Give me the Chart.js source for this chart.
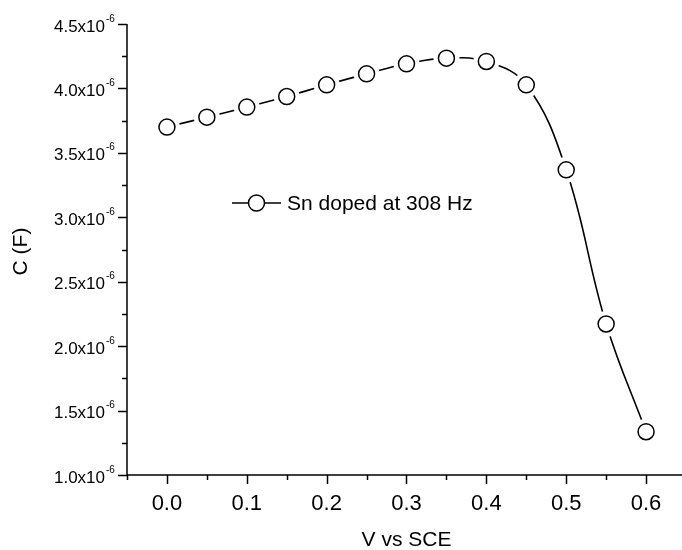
<!DOCTYPE html>
<html>
<head>
<meta charset="utf-8">
<script src="https://cdn.jsdelivr.net/npm/chart.js@4/dist/chart.umd.min.js"></script>
<style>
html,body{margin:0;padding:0;background:#fff;overflow:hidden;}
canvas{display:block;}
</style>
</head>
<body>
<canvas id="c" width="682" height="550"></canvas>
<script>
// ---- data ----
const voltage = [0.00, 0.05, 0.10, 0.15, 0.20, 0.25, 0.30, 0.35, 0.40, 0.45, 0.50, 0.55, 0.60];
const capacitance = [3.700e-6, 3.777e-6, 3.855e-6, 3.937e-6, 4.028e-6, 4.113e-6, 4.191e-6, 4.235e-6, 4.209e-6, 4.028e-6, 3.368e-6, 2.172e-6, 1.336e-6];
const seriesName = 'Sn doped at 308 Hz';

const xMajorTicks = [0.0, 0.1, 0.2, 0.3, 0.4, 0.5, 0.6];
const xTickLabels = ['0.0', '0.1', '0.2', '0.3', '0.4', '0.5', '0.6'];
const xMinorTicks = [-0.05, 0.05, 0.15, 0.25, 0.35, 0.45, 0.55];
const yMajorTicks = [1.0e-6, 1.5e-6, 2.0e-6, 2.5e-6, 3.0e-6, 3.5e-6, 4.0e-6, 4.5e-6];
const yTickLabels = ['1.0x10', '1.5x10', '2.0x10', '2.5x10', '3.0x10', '3.5x10', '4.0x10', '4.5x10'];
const yTickExponent = '-6';
const yMinorTicks = [1.25e-6, 1.75e-6, 2.25e-6, 2.75e-6, 3.25e-6, 3.75e-6, 4.25e-6];
const xTitle = 'V vs SCE';
const yTitle = 'C (F)';

const FONT = 'Arial, "Liberation Sans", sans-serif';

const points = voltage.map((v, i) => ({x: v, y: capacitance[i]}));

const axesPlugin = {
  id: 'originAxes',
  afterDraw(chart) {
    const {ctx, chartArea: a, scales: {x, y}} = chart;
    ctx.save();
    ctx.strokeStyle = '#000';
    ctx.fillStyle = '#000';
    ctx.lineWidth = 1.5;
    ctx.lineCap = 'butt';
    // axis lines
    ctx.beginPath();
    ctx.moveTo(a.left, a.top);
    ctx.lineTo(a.left, a.bottom);
    ctx.lineTo(a.right, a.bottom);
    ctx.stroke();
    // ticks
    ctx.beginPath();
    xMajorTicks.forEach(v => { const px = Math.round(x.getPixelForValue(v)) + 0.5; ctx.moveTo(px, a.bottom); ctx.lineTo(px, a.bottom + 9); });
    xMinorTicks.forEach(v => { const px = Math.round(x.getPixelForValue(v)) + 0.5; ctx.moveTo(px, a.bottom); ctx.lineTo(px, a.bottom + 5); });
    yMajorTicks.forEach(v => { const py = Math.round(y.getPixelForValue(v)) + 0.5; ctx.moveTo(a.left, py); ctx.lineTo(a.left - 9, py); });
    yMinorTicks.forEach(v => { const py = Math.round(y.getPixelForValue(v)) + 0.5; ctx.moveTo(a.left, py); ctx.lineTo(a.left - 5, py); });
    ctx.stroke();
    // x tick labels
    ctx.font = '22px ' + FONT;
    ctx.textAlign = 'center';
    ctx.textBaseline = 'alphabetic';
    xMajorTicks.forEach((v, i) => ctx.fillText(xTickLabels[i], x.getPixelForValue(v), a.bottom + 35));
    // y tick labels with exponent
    yMajorTicks.forEach((v, i) => {
      const py = y.getPixelForValue(v);
      ctx.font = '17px ' + FONT;
      ctx.textAlign = 'right';
      ctx.fillText(yTickLabels[i], a.left - 22, py + 7.5);
      ctx.font = '10px ' + FONT;
      ctx.textAlign = 'left';
      ctx.fillText(yTickExponent, a.left - 21, py - 2.5);
    });
    // titles
    ctx.font = '21px ' + FONT;
    ctx.textAlign = 'center';
    ctx.fillText(xTitle, x.getPixelForValue(0.3), a.bottom + 71);
    ctx.save();
    ctx.translate(27, (a.top + a.bottom) / 2 + 2);
    ctx.rotate(-Math.PI / 2);
    ctx.fillText(yTitle, 0, 0);
    ctx.restore();
    // legend
    const ly = 203, lx0 = 232, lx1 = 281, lc = 256.5;
    ctx.lineWidth = 1.5;
    ctx.beginPath(); ctx.moveTo(lx0, ly); ctx.lineTo(lx1, ly); ctx.stroke();
    ctx.beginPath(); ctx.arc(lc, ly, 8, 0, Math.PI * 2); ctx.fillStyle = '#fff'; ctx.fill(); ctx.stroke();
    ctx.fillStyle = '#000';
    ctx.font = '21px ' + FONT;
    ctx.textAlign = 'left';
    ctx.fillText(seriesName, 287, ly + 7);
    ctx.restore();
  }
};

new Chart(document.getElementById('c'), {
  type: 'scatter',
  data: {
    datasets: [
      {
        label: seriesName,
        data: points,
        showLine: true,
        borderColor: '#000',
        borderWidth: 1.6,
        tension: 0.4,
        pointRadius: 0,
        fill: false,
        order: 3
      },
      {
        label: 'gap',
        data: points,
        showLine: false,
        pointRadius: 13,
        pointBackgroundColor: '#fff',
        pointBorderWidth: 0,
        pointBorderColor: 'rgba(0,0,0,0)',
        order: 2
      },
      {
        label: 'markers',
        data: points,
        showLine: false,
        pointRadius: 8,
        pointBackgroundColor: '#fff',
        pointBorderColor: '#000',
        pointBorderWidth: 1.5,
        order: 1
      }
    ]
  },
  options: {
    responsive: false,
    devicePixelRatio: 1,
    animation: false,
    layout: {autoPadding: false, padding: {left: 127, right: 0, top: 24, bottom: 75}},
    plugins: {legend: {display: false}, tooltip: {enabled: false}},
    scales: {
      x: {type: 'linear', min: -0.05, max: 0.645, display: false},
      y: {type: 'linear', min: 1.0e-6, max: 4.5e-6, display: false}
    }
  },
  plugins: [axesPlugin]
});
</script>
</body>
</html>
